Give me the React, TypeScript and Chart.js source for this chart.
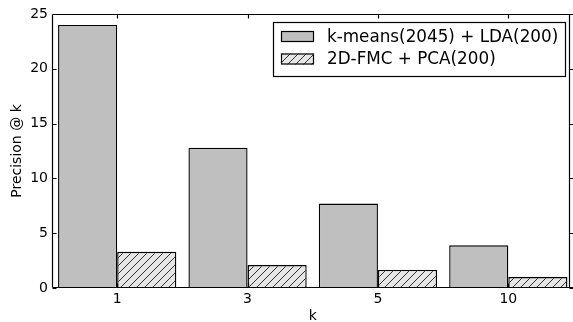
import React, { useEffect, useRef } from 'react';
import { Chart, registerables } from 'chart.js';

Chart.register(...registerables);

const categories = ['1', '3', '5', '10'];
const kmeansLda = [24.0, 12.8, 7.7, 3.9];
const fmcPca = [3.3, 2.1, 1.65, 1.0];
const yTickValues = [0, 5, 10, 15, 20, 25];
const seriesLabels = ['k-means(2045) + LDA(200)', '2D-FMC + PCA(200)'];
const xTitle = 'k';
const yTitle = 'Precision @ k';

const FONT = "'DejaVu Sans', sans-serif";
const GRAY = '#bfbfbf';
const HATCH_BG = '#e6e6e6';
const HATCH_LINE = '#333333';

function makeHatch(): CanvasPattern | string {
  const s = 8;
  const c = document.createElement('canvas');
  c.width = s;
  c.height = s;
  const g = c.getContext('2d');
  if (!g) return HATCH_BG;
  g.fillStyle = HATCH_BG;
  g.fillRect(0, 0, s, s);
  g.strokeStyle = HATCH_LINE;
  g.lineWidth = 1;
  g.beginPath();
  g.moveTo(-1, s + 1);
  g.lineTo(s + 1, -1);
  g.moveTo(-1, 1);
  g.lineTo(1, -1);
  g.moveTo(s - 1, s + 1);
  g.lineTo(s + 1, s - 1);
  g.stroke();
  const p = g.createPattern(c, 'repeat');
  return p || HATCH_BG;
}

export default function App() {
  const ref = useRef<HTMLCanvasElement | null>(null);

  useEffect(() => {
    const canvas = ref.current;
    if (!canvas) return;
    const hatch = makeHatch();
    const SPINE_R = 569.5;

    const framePlugin = {
      id: 'frame',
      afterDatasetsDraw(chart: any) {
        const { ctx, chartArea: a, scales } = chart;
        const x = scales.x;
        const y = scales.y;
        const L = Math.round(a.left) + 0.5;
        const T = Math.round(a.top) + 0.5;
        const B = Math.round(a.bottom) - 0.5;
        ctx.save();
        ctx.strokeStyle = '#000';
        ctx.lineWidth = 1.2;
        ctx.beginPath();
        ctx.moveTo(L, T);
        ctx.lineTo(SPINE_R, T);
        ctx.moveTo(L, T);
        ctx.lineTo(L, B);
        ctx.moveTo(SPINE_R, T);
        ctx.lineTo(SPINE_R, B);
        ctx.moveTo(L, B);
        ctx.lineTo(573, B);
        // y ticks
        yTickValues.forEach((v) => {
          const py = Math.round(y.getPixelForValue(v)) + 0.5;
          ctx.moveTo(L, py);
          ctx.lineTo(L + 4, py);
          ctx.moveTo(SPINE_R, py);
          ctx.lineTo(SPINE_R + 4, py);
        });
        // x ticks
        categories.forEach((_, i) => {
          const px = Math.round(x.getPixelForValue(i)) + 0.5;
          ctx.moveTo(px, T);
          ctx.lineTo(px, T + 4);
          ctx.moveTo(px, B);
          ctx.lineTo(px, B - 4);
        });
        ctx.stroke();

        // legend
        const bx = 273.5, by = 22.5, bw = 292, bh = 54;
        ctx.lineWidth = 1.2;
        ctx.fillStyle = '#fff';
        ctx.fillRect(bx, by, bw, bh);
        ctx.strokeStyle = '#000';
        ctx.strokeRect(bx, by, bw, bh);
        const fills = [GRAY, hatch];
        const rows = [36.5, 59];
        ctx.font = `16.8px ${FONT}`;
        ctx.textBaseline = 'middle';
        ctx.textAlign = 'left';
        seriesLabels.forEach((lab, i) => {
          const cy = rows[i];
          ctx.fillStyle = fills[i] as any;
          ctx.fillRect(281, cy - 5.5, 33, 11);
          ctx.strokeStyle = '#000';
          ctx.strokeRect(281.5, cy - 5, 32, 10);
          ctx.fillStyle = '#000';
          ctx.fillText(lab, 327, cy + 1);
        });
        ctx.restore();
      },
    };

    const chart = new Chart(canvas, {
      type: 'bar',
      data: {
        labels: categories,
        datasets: [
          {
            label: seriesLabels[0],
            data: kmeansLda,
            backgroundColor: GRAY,
            borderColor: '#000',
            borderWidth: 1.4,
            borderSkipped: 'start',
          },
          {
            label: seriesLabels[1],
            data: fmcPca,
            backgroundColor: hatch as any,
            borderColor: '#000',
            borderWidth: 1.4,
            borderSkipped: 'start',
          },
        ],
      },
      options: {
        responsive: false,
        animation: false,
        devicePixelRatio: 1,
        layout: { padding: { top: 14, right: 2.5, left: 0, bottom: 0 } },
        datasets: {
          bar: { categoryPercentage: 0.907, barPercentage: 1 },
        },
        plugins: {
          legend: { display: false },
          tooltip: { enabled: false },
        },
        scales: {
          x: {
            type: 'category',
            offset: true,
            grid: { display: false, drawTicks: false },
            border: { display: false },
            ticks: {
              color: '#000',
              font: { family: FONT, size: 14 },
              padding: 3,
              maxRotation: 0,
            },
            title: {
              display: true,
              text: xTitle,
              color: '#000',
              font: { family: FONT, size: 14 },
              padding: { top: 0, bottom: -3 },
            },
            afterFit(scale: any) {
              scale.height = 34;
            },
          },
          y: {
            min: 0,
            max: 25,
            grid: { display: false, drawTicks: false },
            border: { display: false },
            ticks: {
              stepSize: 5,
              color: '#000',
              font: { family: FONT, size: 14 },
              padding: 4,
            },
            title: {
              display: true,
              text: yTitle,
              color: '#000',
              font: { family: FONT, size: 14 },
              padding: { top: 9, bottom: 0 },
            },
            afterFit(scale: any) {
              scale.width = 52;
            },
          },
        },
      },
      plugins: [framePlugin],
    });

    return () => {
      chart.destroy();
    };
  }, []);

  return (
    <div
      style={{
        position: 'fixed',
        left: 0,
        top: 0,
        width: 573,
        height: 322,
        overflow: 'hidden',
        background: '#fff',
      }}
    >
      <canvas ref={ref} width={576} height={322} style={{ display: 'block', width: 576, height: 322 }} />
    </div>
  );
}
